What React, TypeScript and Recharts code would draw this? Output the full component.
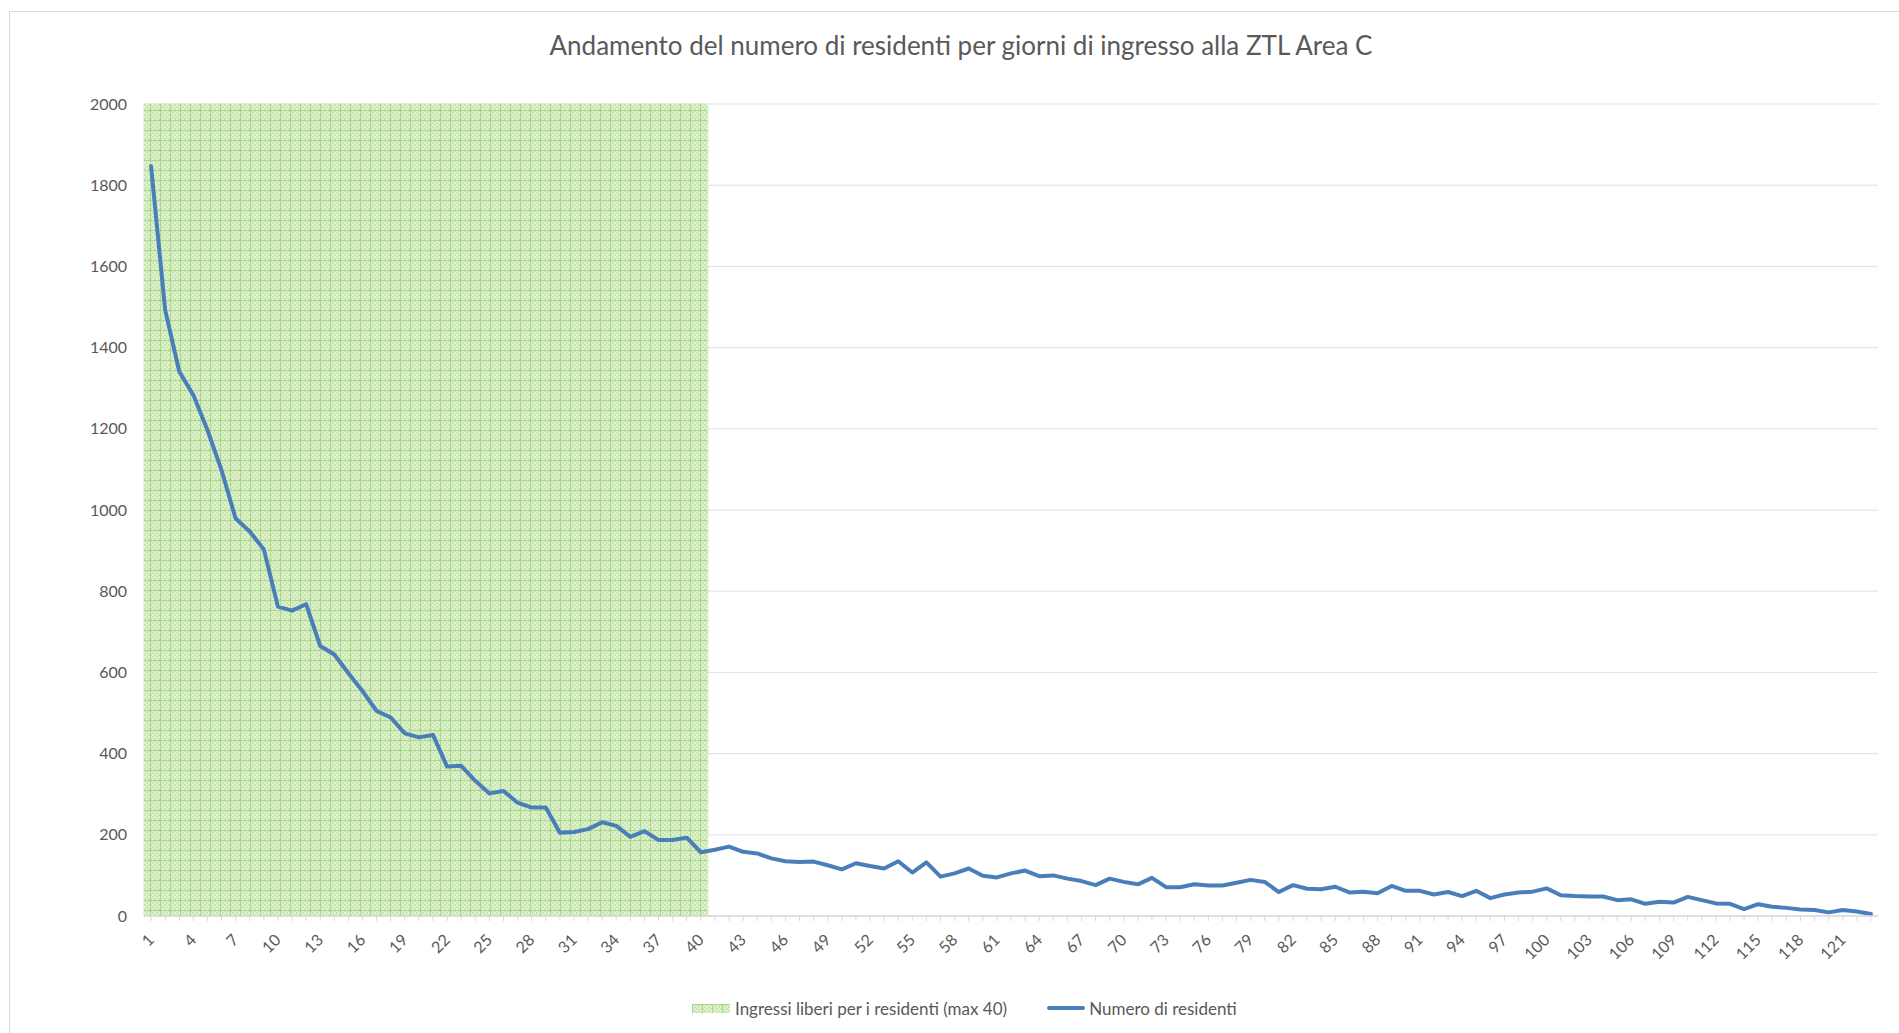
import React from 'react';
import { ComposedChart, Bar, Line, XAxis, YAxis, CartesianGrid } from 'recharts';

// giorni di ingresso (categorie asse X)
const days = [
  1, 2, 3, 4, 5, 6, 7, 8, 9, 10, 11, 12, 13, 14, 15, 16, 17, 18, 19, 20,
  21, 22, 23, 24, 25, 26, 27, 28, 29, 30, 31, 32, 33, 34, 35, 36, 37, 38, 39, 40,
  41, 42, 43, 44, 45, 46, 47, 48, 49, 50, 51, 52, 53, 54, 55, 56, 57, 58, 59, 60,
  61, 62, 63, 64, 65, 66, 67, 68, 69, 70, 71, 72, 73, 74, 75, 76, 77, 78, 79, 80,
  81, 82, 83, 84, 85, 86, 87, 88, 89, 90, 91, 92, 93, 94, 95, 96, 97, 98, 99, 100,
  101, 102, 103, 104, 105, 106, 107, 108, 109, 110, 111, 112, 113, 114, 115, 116, 117, 118, 119, 120,
  121, 122, 123,
];

// fascia verde: ingressi liberi (primi 40 giorni)
const freeEntries = [
  2000, 2000, 2000, 2000, 2000, 2000, 2000, 2000, 2000, 2000,
  2000, 2000, 2000, 2000, 2000, 2000, 2000, 2000, 2000, 2000,
  2000, 2000, 2000, 2000, 2000, 2000, 2000, 2000, 2000, 2000,
  2000, 2000, 2000, 2000, 2000, 2000, 2000, 2000, 2000, 2000,
];

const residents = [
  1847, 1493, 1341, 1283, 1197, 1098, 979, 947, 903, 762,
  752, 768, 665, 644, 598, 554, 505, 489, 450, 440,
  446, 368, 370, 333, 302, 308, 279, 267, 267, 205,
  207, 214, 231, 222, 195, 209, 187, 187, 193, 157,
  163, 171, 158, 154, 142, 135, 133, 134, 125, 115,
  130, 123, 117, 135, 107, 132, 97, 105, 117, 99,
  95, 105, 112, 98, 100, 92, 86, 76, 92, 84,
  78, 94, 71, 71, 78, 75, 75, 82, 89, 84,
  59, 76, 67, 66, 72, 58, 60, 56, 74, 62,
  62, 53, 59, 49, 62, 44, 53, 58, 60, 68,
  51, 49, 48, 48, 39, 41, 30, 35, 33, 47,
  39, 31, 30, 17, 29, 23, 20, 16, 15, 9,
  15, 11, 5,
];

const yTicks = [0, 200, 400, 600, 800, 1000, 1200, 1400, 1600, 1800, 2000];

const TITLE = 'Andamento del numero di residenti per giorni di ingresso alla ZTL Area C';
const FREE_LABEL = 'Ingressi liberi per i residenti (max 40)';
const LINE_LABEL = 'Numero di residenti';

const FONT = 'Lato, "Open Sans", sans-serif';
const TEXT = '#595959';
const GRID = '#d9d9d9';
const BLUE = '#4a7ebb';

const data = days.map((d, i) => ({
  day: d,
  free: i < freeEntries.length ? freeEntries[i] : null,
  residents: residents[i],
}));

function DayTick(props: any) {
  const { x, y, payload } = props;
  const v = Number(payload.value);
  if ((v - 1) % 3 !== 0) return <g />;
  const ax = x + 4;
  const ay = y + 20;
  return (
    <text x={ax} y={ay} textAnchor="end" transform={`rotate(-45, ${ax}, ${ay})`}
      fill={TEXT} fontSize={16} fontFamily={FONT}>
      {v}
    </text>
  );
}

function Patterns() {
  return (
    <svg width={0} height={0} style={{ position: 'absolute' }}>
      <defs>
        <pattern id="chk" width="4" height="4" patternUnits="userSpaceOnUse">
          <rect width="4" height="4" fill="#e1f2d3" />
          <rect width="2" height="2" fill="#c8e6ae" />
          <rect x="2" y="2" width="2" height="2" fill="#c8e6ae" />
        </pattern>
        <pattern id="greenGrid" width="10" height="10" patternUnits="userSpaceOnUse">
          <rect width="10" height="10" fill="url(#chk)" />
          <path d="M0 0.5H10M0.5 0V10" stroke="#a9d78c" strokeWidth="1" />
        </pattern>
      </defs>
    </svg>
  );
}

export default function App() {
  return (
    <div style={{ position: 'relative', width: 1899, height: 1033, overflow: 'hidden', background: '#fff' }}>
      <style>{'body{margin:0;overflow:hidden}'}</style>
      <Patterns />
      <div style={{
        position: 'absolute', left: 9, top: 11, width: 1960, height: 1100,
        border: `1px solid ${GRID}`, boxSizing: 'border-box',
      }} />
      <div style={{
        position: 'absolute', left: 0, top: 30, width: 1922, textAlign: 'center',
        fontFamily: FONT, fontSize: 26, color: TEXT, lineHeight: '30px',
      }}>
        {TITLE}
      </div>

      <div style={{ position: 'absolute', left: 0, top: 0 }}>
        <ComposedChart width={1899} height={1033} data={data}
          margin={{ top: 104, right: 21, bottom: 57, left: 84 }}
          barCategoryGap={0} barGap={0}>
          <XAxis dataKey="day" height={60} interval={0} tick={<DayTick />}
            tickSize={5} tickMargin={0}
            axisLine={{ stroke: GRID, strokeWidth: 1.5 }} tickLine={{ stroke: GRID }} />
          <YAxis domain={[0, 2000]} ticks={yTicks} width={60} interval={0}
            axisLine={false} tickLine={false} tickSize={0} tickMargin={17}
            tick={{ fill: TEXT, fontSize: 16, fontFamily: FONT }} />
          <Bar dataKey="free" fill="url(#greenGrid)" stroke="url(#greenGrid)" strokeWidth={1}
            isAnimationActive={false} />
          <CartesianGrid vertical={false} stroke={GRID} strokeOpacity={0.8} />
          <Line dataKey="residents" stroke={BLUE} strokeWidth={4} dot={false}
            strokeLinejoin="round" strokeLinecap="round" isAnimationActive={false} />
        </ComposedChart>
      </div>

      <div style={{
        position: 'absolute', top: 997, left: 692, display: 'flex', alignItems: 'center',
        fontFamily: FONT, fontSize: 17, color: TEXT, height: 22,
      }}>
        <svg width={38} height={9} style={{ marginRight: 5 }}>
          <rect width={38} height={9} fill="url(#greenGrid)" />
        </svg>
        <span>{FREE_LABEL}</span>
        <span style={{
          display: 'inline-block', width: 38, height: 4, background: BLUE,
          borderRadius: 2, marginLeft: 40, marginRight: 4,
        }} />
        <span>{LINE_LABEL}</span>
      </div>
    </div>
  );
}
